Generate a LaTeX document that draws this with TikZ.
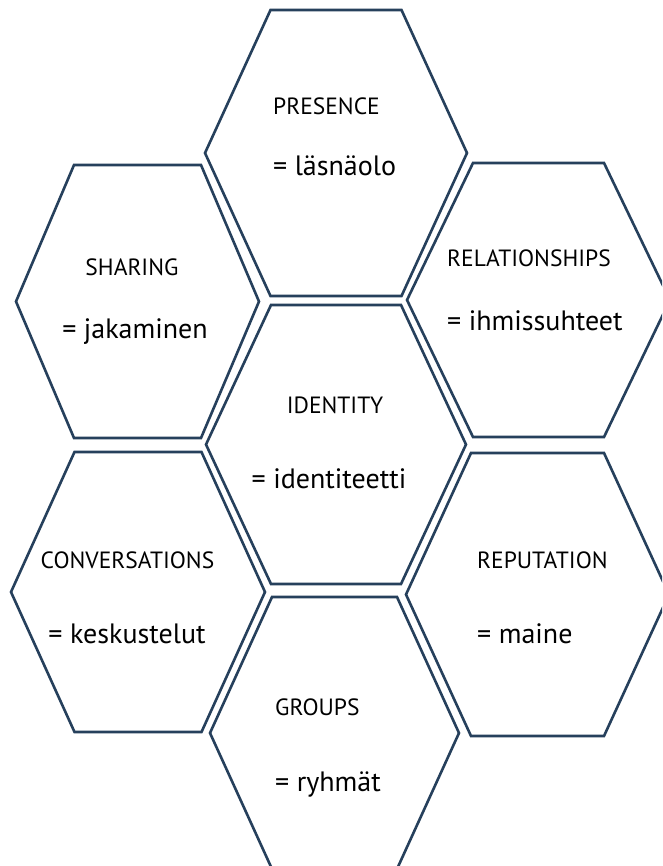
\documentclass[tikz,border=0pt]{standalone}
\usepackage{fontspec}
\setmainfont{PT Sans}
\definecolor{hexline}{RGB}{38,64,92}
% hexagon with flat top and bottom: name, centre x, centre y, half width, half top edge, half height
\newcommand\hexcell[6]{%
  \draw[hexstroke] (#2-#5,#3-#6) -- (#2+#5,#3-#6) -- (#2+#4,#3)
    -- (#2+#5,#3+#6) -- (#2-#5,#3+#6) -- (#2-#4,#3) -- cycle;
  \coordinate (#1) at (#2,#3);}
\begin{document}
\begin{tikzpicture}[x=1pt,y=-1pt,
  hexstroke/.style={draw=hexline, line width=2.6pt, line join=miter},
  head/.style={inner sep=0pt, font=\fontsize{23.5}{24}\selectfont},
  gloss/.style={inner sep=0pt, font=\fontsize{28}{28}\selectfont},
  headw/.style={head, anchor=base west},
  headc/.style={head, anchor=base},
  glossw/.style={gloss, anchor=base west},
  glossc/.style={gloss, anchor=base}]
\useasboundingbox (0,0) rectangle (662,866);
\clip (0,0) rectangle (662,866);
\fill[white] (0,0) rectangle (662,866);

% honeycomb cells
\hexcell{presence}{336}{153}{131}{65.5}{143}
\hexcell{identity}{336}{444.5}{130}{65}{139.5}
\hexcell{relationships}{538.5}{300}{131.5}{65.5}{137}
\hexcell{sharing}{137.5}{301.5}{121.5}{63.5}{136.5}
\hexcell{conversations}{138}{592}{127}{63.5}{140}
\hexcell{reputation}{537.5}{594.5}{131.5}{66.5}{141.5}
\hexcell{groups}{334.5}{733}{124.5}{62.5}{136}

% labels
\node[headw] (presenceA) at (273,115) {PRESENCE};
\node[glossw] (presenceB) at (273,176) {= läsnäolo};
\node[headc] (sharingA) at (132,276) {SHARING};
\node[glossc] (sharingB) at (135,338) {= jakaminen};
\node[headw] (relA) at (447,267) {RELATIONSHIPS};
\node[glossw] (relB) at (447,330) {= ihmissuhteet};
\node[headc] (identityA) at (335,413) {IDENTITY};
\node[glossc] (identityB) at (329,488) {= identiteetti};
\node[headc] (convA) at (127.5,568) {CONVERSATIONS};
\node[glossc] (convB) at (127,643) {= keskustelut};
\node[headw] (repA) at (477,568) {REPUTATION};
\node[glossw] (repB) at (477,643) {= maine};
\node[headw] (groupsA) at (275,715) {GROUPS};
\node[glossw] (groupsB) at (275,791) {= ryhmät};
\end{tikzpicture}
\end{document}
